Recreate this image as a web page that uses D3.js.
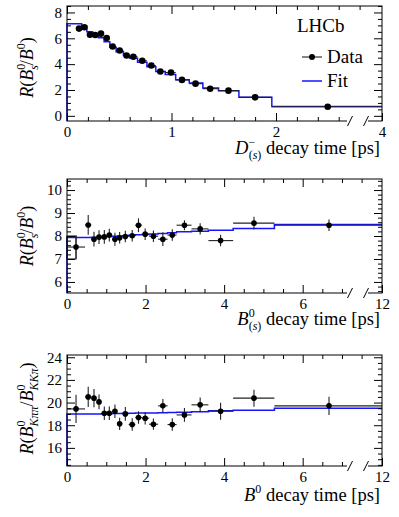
<!DOCTYPE html>
<html>
<head>
<meta charset="utf-8">
<script src="https://cdn.jsdelivr.net/npm/d3@7"></script>
<style>
  body { margin: 0; background: #fff; }
  svg text { font-family: "Liberation Serif", "Times New Roman", serif !important; fill: #000; }
</style>
</head>
<body>
<script>
// ---- panel 1 : D(s) decay time ----
const d1Time = [0.115, 0.166, 0.22, 0.27, 0.325, 0.38, 0.437, 0.504, 0.57, 0.635, 0.72, 0.807, 0.893, 0.995, 1.10, 1.23, 1.37, 1.545, 1.80, 2.495];
const d1Val  = [6.75, 6.85, 6.28, 6.25, 6.36, 6.02, 5.37, 5.06, 4.67, 4.57, 4.26, 3.89, 3.43, 3.35, 2.78, 2.49, 2.10, 1.95, 1.43, 0.70];
const d1Err  = [0.12, 0.12, 0.1, 0.1, 0.1, 0.1, 0.09, 0.09, 0.08, 0.08, 0.08, 0.07, 0.07, 0.07, 0.06, 0.06, 0.05, 0.05, 0.05, 0.04];
const d1Edges = [0.09, 0.14, 0.19, 0.245, 0.30, 0.355, 0.41, 0.47, 0.54, 0.60, 0.675, 0.765, 0.85, 0.94, 1.04, 1.17, 1.30, 1.45, 1.645, 1.96, 4];
const f1Edges = [0, 0.14, 0.19, 0.245, 0.30, 0.355, 0.41, 0.47, 0.54, 0.60, 0.675, 0.765, 0.85, 0.94, 1.04, 1.17, 1.30, 1.45, 1.645, 1.96, 4];
const f1Val  = [7.12, 6.96, 6.5, 6.26, 6.05, 5.74, 5.3, 4.96, 4.67, 4.46, 4.15, 3.79, 3.43, 3.19, 2.8, 2.55, 2.16, 1.95, 1.43, 0.72];
const x1Ticks = [0, 1, 2, 4];
const y1Ticks = [0, 2, 4, 6, 8];

// ---- panel 2 : B(s) decay time ----
const d2Time = [0.23, 0.54, 0.687, 0.815, 0.95, 1.077, 1.22, 1.34, 1.485, 1.66, 1.82, 1.99, 2.20, 2.44, 2.68, 2.99, 3.39, 3.91, 4.76, 6.67];
const d2Val  = [7.52, 8.48, 7.86, 7.95, 7.96, 8.04, 7.86, 7.92, 7.98, 8.01, 8.47, 8.08, 7.99, 7.86, 8.04, 8.47, 8.31, 7.80, 8.56, 8.47];
const d2Err  = [0.5, 0.43, 0.32, 0.3, 0.3, 0.28, 0.28, 0.25, 0.25, 0.25, 0.3, 0.25, 0.25, 0.3, 0.25, 0.22, 0.25, 0.25, 0.28, 0.25];
const binEdges = [0, 0.46, 0.62, 0.75, 0.88, 1.01, 1.15, 1.28, 1.41, 1.57, 1.74, 1.91, 2.09, 2.32, 2.56, 2.79, 3.17, 3.60, 4.23, 5.28, 12];
const f2Val  = [7.93, 7.94, 7.95, 7.96, 7.97, 7.98, 7.99, 8.0, 8.01, 8.03, 8.05, 8.07, 8.09, 8.11, 8.14, 8.18, 8.21, 8.25, 8.33, 8.5];
const b2Box  = { x0: 0, x1: 0.23, lo: 7.0, hi: 8.0 };
const x23Ticks = [0, 2, 4, 6, 12];
const y2Ticks = [6, 7, 8, 9, 10];

// ---- panel 3 : B0 decay time ----
const d3Time = d2Time;
const d3Val  = [19.44, 20.5, 20.39, 20.06, 19.06, 19.06, 19.24, 18.12, 19.0, 18.06, 18.68, 18.62, 18.09, 19.71, 18.06, 18.91, 19.8, 19.24, 20.39, 19.71];
const d3Err  = [1.25, 0.9, 0.8, 0.65, 0.6, 0.6, 0.6, 0.55, 0.6, 0.55, 0.55, 0.55, 0.5, 0.6, 0.55, 0.6, 0.65, 0.75, 0.75, 0.8];
const f3Val  = [18.98, 18.99, 19.0, 19.0, 19.01, 19.02, 19.03, 19.04, 19.05, 19.06, 19.07, 19.08, 19.09, 19.11, 19.13, 19.15, 19.2, 19.27, 19.33, 19.5];
const y3Ticks = [16, 18, 20, 22, 24];

const left = 67, W = 315;
const serif = '"Liberation Serif", "Times New Roman", serif';
const svg = d3.select('body').append('svg').attr('width', 399).attr('height', 517);

function rich(sel, parts) {
  parts.forEach(p => {
    const ts = sel.append('tspan').text(p.t);
    if (p.i) ts.attr('font-style', 'italic');
    if (p.fs) ts.attr('font-size', p.fs);
    if (p.dx) ts.attr('dx', p.dx);
    if (p.dy) ts.attr('dy', p.dy);
  });
}

function drawPanel(c) {
  const g = svg.append('g').attr('transform', `translate(${left},${c.top})`);
  const h = c.h;
  const x = d3.scaleLinear().domain([0, c.brk, c.xEnd]).range([0, c.brk * c.k, W]);
  const xd = d3.scaleLinear().domain([0, W / c.k]).range([0, W]); // display units for top ticks
  const y = d3.scaleLinear().domain(c.yDom).range([h, 0]);

  // fit histogram
  const pts = [[0, c.yDom[0]]].concat(c.fitVal.map((v, i) => [c.fitEdges[i], v]));
  pts.push([c.fitEdges[c.fitEdges.length - 1], c.fitVal[c.fitVal.length - 1]]);
  g.append('path')
    .attr('d', d3.line().x(d => x(d[0])).y(d => y(d[1])).curve(d3.curveStepAfter)(pts))
    .attr('fill', 'none').attr('stroke', '#1515ff').attr('stroke-width', 1.5);

  if (c.box) {
    g.append('rect')
      .attr('x', x(c.box.x0)).attr('y', y(c.box.hi))
      .attr('width', x(c.box.x1) - x(c.box.x0)).attr('height', y(c.box.lo) - y(c.box.hi))
      .attr('fill', 'none').attr('stroke', '#111').attr('stroke-width', 1);
  }

  // data points with error bars
  const data = c.t.map((t, i) => ({ t, v: c.v[i], e: c.e[i], lo: c.dEdges[i], hi: c.dEdges[i + 1] }));
  const pg = g.append('g').attr('stroke', '#222').attr('stroke-width', 1.1);
  pg.selectAll('.xe').data(data).enter().append('line')
    .attr('x1', d => x(d.lo)).attr('x2', d => x(d.hi))
    .attr('y1', d => y(d.v)).attr('y2', d => y(d.v));
  pg.selectAll('.ye').data(data).enter().append('line')
    .attr('x1', d => x(d.t)).attr('x2', d => x(d.t))
    .attr('y1', d => y(d.v - d.e)).attr('y2', d => y(d.v + d.e));
  g.selectAll('circle').data(data).enter().append('circle')
    .attr('cx', d => x(d.t)).attr('cy', d => y(d.v)).attr('r', c.r).attr('fill', '#000');

  // frame
  g.append('rect').attr('width', W).attr('height', h)
    .attr('fill', 'none').attr('stroke', '#000').attr('stroke-width', 1);

  const style = a => { a.select('.domain').remove(); a.selectAll('line').attr('stroke', '#000'); };
  const labels = a => a.selectAll('text').attr('font-size', 15).style('font-family', serif);
  const bx = g.append('g').attr('transform', `translate(0,${h})`)
    .call(d3.axisBottom(x).tickValues(c.xTicks).tickSize(-8).tickPadding(5).tickFormat(d3.format('d')));
  bx.call(style); bx.call(labels);
  g.append('g').attr('transform', `translate(0,${h})`)
    .call(d3.axisBottom(x).tickValues(c.xMinor).tickSize(-4).tickFormat('')).call(style);
  g.append('g').call(d3.axisTop(xd).tickValues(c.xTicks.slice(0, -1)).tickSize(-8).tickFormat('')).call(style);
  g.append('g').call(d3.axisTop(xd).tickValues(c.xTopMinor).tickSize(-4).tickFormat('')).call(style);

  const ly = g.append('g').call(d3.axisLeft(y).tickValues(c.yTicks).tickSize(-8).tickPadding(5).tickFormat(d3.format('d')));
  ly.call(style); ly.call(labels);
  g.append('g').call(d3.axisLeft(y).tickValues(c.yMinor).tickSize(-4).tickFormat('')).call(style);
  g.append('g').attr('transform', `translate(${W},0)`)
    .call(d3.axisRight(y).tickValues(c.yTicks).tickSize(-8).tickFormat('')).call(style);
  g.append('g').attr('transform', `translate(${W},0)`)
    .call(d3.axisRight(y).tickValues(c.yMinor).tickSize(-4).tickFormat('')).call(style);

  // axis break
  g.append('rect').attr('x', W - 35).attr('y', h - 2).attr('width', 21).attr('height', 4).attr('fill', '#fff');
  [W - 32, W - 16].forEach(bxp => {
    g.append('line').attr('x1', bxp - 2.5).attr('y1', h + 5).attr('x2', bxp + 2.5).attr('y2', h - 5)
      .attr('stroke', '#000').attr('stroke-width', 1);
  });

  // titles
  const xt = svg.append('text').attr('x', 380).attr('y', c.top + h + c.xtOff)
    .attr('text-anchor', 'end').attr('font-size', 18.5);
  rich(xt, c.xTitle);
  const yt = svg.append('text')
    .attr('transform', `translate(33,${c.top + h / 2 + (c.yOff || 0)}) rotate(-90)`)
    .attr('text-anchor', 'middle').attr('font-size', 18);
  rich(yt, c.yTitle);
  return g;
}

const range = (a, b, s, skip) => d3.range(Math.round(a / s), Math.round(b / s) + 1)
  .map(i => +(i * s).toFixed(3)).filter(v => !skip.includes(v));

const supSub = (sup, sub, dx) => [
  { t: sup, fs: 12, dy: -8 },
  ...sub.map((s, j) => j === 0 ? { t: s.t, i: s.i, fs: 12, dx: dx, dy: 13 } : { t: s.t, i: s.i, fs: 12 })
];

drawPanel({
  top: 6, h: 115, k: 104.5, brk: 2.75, xEnd: 4, yDom: [-0.4, 8.5], xtOff: 33,
  t: d1Time, v: d1Val, e: d1Err, dEdges: d1Edges, fitEdges: f1Edges, fitVal: f1Val, r: 3.3,
  xTicks: x1Ticks, xMinor: range(0.2, 2.6, 0.2, x1Ticks), xTopMinor: range(0.2, 2.8, 0.2, x1Ticks),
  yTicks: y1Ticks, yMinor: range(0, 8.5, 0.5, y1Ticks),
  xTitle: [{ t: 'D', i: 1 }, ...supSub('\u2212', [{ t: '(' }, { t: 's', i: 1 }, { t: ')' }], -6.5), { t: ' decay time [ps]', dy: -5 }],
  yTitle: [{ t: 'R', i: 1 }, { t: '(' }, { t: 'B', i: 1 }, ...supSub('0', [{ t: 's', i: 1 }], -6), { t: '/', dy: -5 }, { t: 'B', i: 1 }, { t: '0', fs: 12, dy: -8 }, { t: ')', dy: 8 }],
  yOff: 4
});

drawPanel({
  top: 179, h: 114, k: 39.28, brk: 7.1, xEnd: 12, yDom: [5.52, 10.48], xtOff: 32,
  t: d2Time, v: d2Val, e: d2Err, dEdges: binEdges, fitEdges: binEdges, fitVal: f2Val, r: 2.8, box: b2Box,
  xTicks: x23Ticks, xMinor: range(0.5, 7, 0.5, x23Ticks), xTopMinor: range(0.5, 7.5, 0.5, x23Ticks),
  yTicks: y2Ticks, yMinor: range(5.6, 10.4, 0.2, y2Ticks),
  xTitle: [{ t: 'B', i: 1 }, ...supSub('0', [{ t: '(' }, { t: 's', i: 1 }, { t: ')' }], -6), { t: ' decay time [ps]', dy: -5 }],
  yTitle: [{ t: 'R', i: 1 }, { t: '(' }, { t: 'B', i: 1 }, ...supSub('0', [{ t: 's', i: 1 }], -6), { t: '/', dy: -5 }, { t: 'B', i: 1 }, { t: '0', fs: 12, dy: -8 }, { t: ')', dy: 8 }]
});

drawPanel({
  top: 355, h: 111, k: 39.28, brk: 7.1, xEnd: 12, yDom: [14.4, 24.2], xtOff: 35,
  t: d3Time, v: d3Val, e: d3Err, dEdges: binEdges, fitEdges: binEdges, fitVal: f3Val, r: 2.8,
  xTicks: x23Ticks, xMinor: range(0.5, 7, 0.5, x23Ticks), xTopMinor: range(0.5, 7.5, 0.5, x23Ticks),
  yTicks: y3Ticks, yMinor: range(14.5, 24, 0.5, y3Ticks),
  xTitle: [{ t: 'B', i: 1 }, { t: '0', fs: 12, dy: -8 }, { t: ' decay time [ps]', dy: 8 }],
  yTitle: [{ t: 'R', i: 1 }, { t: '(' }, { t: 'B', i: 1 }, ...supSub('0', [{ t: 'K\u03c0\u03c0', i: 1 }], -6), { t: '/', dy: -5 }, { t: 'B', i: 1 }, ...supSub('0', [{ t: 'KK\u03c0', i: 1 }], -6), { t: ')', dy: -5 }],
  yOff: -2
});

// legend (panel 1)
svg.append('text').attr('x', 297).attr('y', 32).attr('font-size', 19).text('LHCb');
svg.append('line').attr('x1', 302).attr('x2', 322).attr('y1', 57).attr('y2', 57).attr('stroke', '#222').attr('stroke-width', 1.1);
svg.append('circle').attr('cx', 312).attr('cy', 57).attr('r', 3).attr('fill', '#000');
svg.append('text').attr('x', 327).attr('y', 63).attr('font-size', 19).text('Data');
svg.append('line').attr('x1', 302).attr('x2', 322).attr('y1', 81).attr('y2', 81).attr('stroke', '#1515ff').attr('stroke-width', 1.5);
svg.append('text').attr('x', 327).attr('y', 87).attr('font-size', 19).text('Fit');
</script>
</body>
</html>
